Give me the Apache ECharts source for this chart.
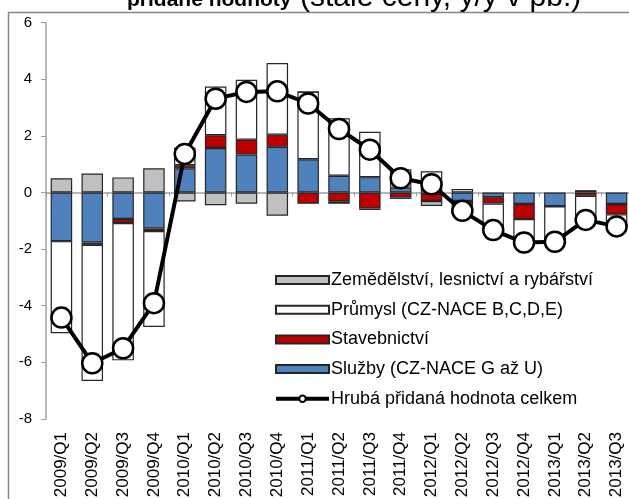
<!DOCTYPE html>
<html>
<head>
<meta charset="utf-8">
<script src="https://cdn.jsdelivr.net/npm/echarts@6/dist/echarts.min.js"></script>
<style>
  html, body { margin: 0; padding: 0; background: #fff; }
  #main { width: 629px; height: 499px; }
</style>
</head>
<body>
<div id="main"></div>
<script>
// data (p.b.)
var categories = ['2009/Q1', '2009/Q2', '2009/Q3', '2009/Q4', '2010/Q1', '2010/Q2', '2010/Q3', '2010/Q4',
  '2011/Q1', '2011/Q2', '2011/Q3', '2011/Q4', '2012/Q1', '2012/Q2', '2012/Q3', '2012/Q4',
  '2013/Q1', '2013/Q2', '2013/Q3'];
var sluzby = [-1.72, -1.77, -0.94, -1.27, 0.85, 1.57, 1.34, 1.61, 1.17, 0.59, 0.54, 0.17, -0.05, -0.30, -0.17, -0.41, -0.49, 0.08, -0.41];
var stavebnictvi = [0, -0.08, -0.14, -0.09, 0.11, 0.45, 0.52, 0.43, -0.40, -0.31, -0.57, -0.18, -0.25, -0.17, -0.22, -0.53, 0, -0.12, -0.36];
var prumysl = [-3.25, -4.81, -4.85, -3.39, 0.62, 1.72, 2.12, 2.53, 2.38, 2.03, 1.60, 0.65, 0.75, 0.12, -0.95, -0.85, -1.25, -0.90, -0.43];
var zemedelstvi = [0.50, 0.67, 0.53, 0.85, -0.32, -0.45, -0.40, -0.82, 0, -0.09, -0.05, -0.05, -0.18, -0.30, 0, 0, 0, 0, 0];
var celkem = [-4.42, -6.03, -5.50, -3.91, 1.36, 3.31, 3.55, 3.57, 3.14, 2.24, 1.51, 0.50, 0.29, -0.65, -1.33, -1.77, -1.74, -0.97, -1.20];

var names = {
  agri: 'Zemědělství, lesnictví a rybářství',
  ind: 'Průmysl (CZ-NACE B,C,D,E)',
  con: 'Stavebnictví',
  serv: 'Služby (CZ-NACE G až U)',
  total: 'Hrubá přidaná hodnota celkem'
};

var font = 'Liberation Sans, Arial, sans-serif';
var myChart = echarts.init(document.getElementById('main'));

function barSeries(name, data, color) {
  return {
    name: name,
    type: 'bar',
    stack: 'hpH',
    barWidth: 21.5,
    data: data,
    itemStyle: { color: color, borderColor: '#262626', borderWidth: 1.2 }
  };
}

myChart.setOption({
  animation: false,
  backgroundColor: '#fff',
  textStyle: { fontFamily: font },
  graphic: [
    {
      type: 'rect', silent: true,
      shape: { x: 8.5, y: 12.5, width: 700, height: 600 },
      style: { fill: 'none', stroke: '#868686', lineWidth: 1.5 }
    },
    {
      type: 'text', left: 127, top: -10,
      style: { text: 'přidané hodnoty', font: 'bold 21px ' + font, fill: '#000' }
    },
    {
      type: 'text', left: 300, top: -17,
      style: { text: '(stálé ceny, y/y v pb.)', font: '30px ' + font, fill: '#000' }
    }
  ],
  grid: { left: 46, top: 22.5, width: 586, bottom: 80, containLabel: false, outerBoundsMode: 'none' },
  legend: {
    orient: 'vertical',
    left: 269,
    top: 265,
    itemWidth: 53,
    itemHeight: 8,
    itemGap: 9.7,
    lineStyle: { width: 4, color: '#000' },
    data: [
      { name: names.agri, icon: 'rect' },
      { name: names.ind, icon: 'rect' },
      { name: names.con, icon: 'rect' },
      { name: names.serv, icon: 'rect' },
      { name: names.total }
    ],
    textStyle: { fontSize: 18, color: '#000', fontFamily: font, lineHeight: 20, padding: [0, 0, 0, -3] }
  },
  xAxis: [
    {
      type: 'category',
      data: categories,
      axisLine: { onZero: true, lineStyle: { color: '#a0a0a0', width: 1.5 } },
      axisTick: { show: true, length: 4, lineStyle: { color: '#a0a0a0' } },
      axisLabel: { show: false }
    },
    {
      type: 'category',
      data: categories,
      position: 'bottom',
      axisLine: { show: false, onZero: false },
      axisTick: { show: false },
      axisLabel: { rotate: 90, margin: 13, fontSize: 17, color: '#000', interval: 0, hideOverlap: false }
    }
  ],
  yAxis: {
    type: 'value',
    min: -8,
    max: 6,
    interval: 2,
    splitLine: { show: false },
    axisLine: { show: true, lineStyle: { color: '#a0a0a0', width: 1.5 } },
    axisTick: { show: true, length: 5, lineStyle: { color: '#a0a0a0' } },
    axisLabel: { fontSize: 15, color: '#000', margin: 14 }
  },
  series: [
    barSeries(names.serv, sluzby, '#4f81bd'),
    barSeries(names.con, stavebnictvi, '#c00000'),
    barSeries(names.ind, prumysl, '#ffffff'),
    barSeries(names.agri, zemedelstvi, '#c0c0c0'),
    {
      name: names.total,
      type: 'line',
      data: celkem,
      symbol: 'circle',
      symbolSize: 20,
      z: 5,
      lineStyle: { color: '#000', width: 4 },
      itemStyle: { color: '#fff', borderColor: '#000', borderWidth: 2.5 }
    }
  ]
});
</script>
</body>
</html>
